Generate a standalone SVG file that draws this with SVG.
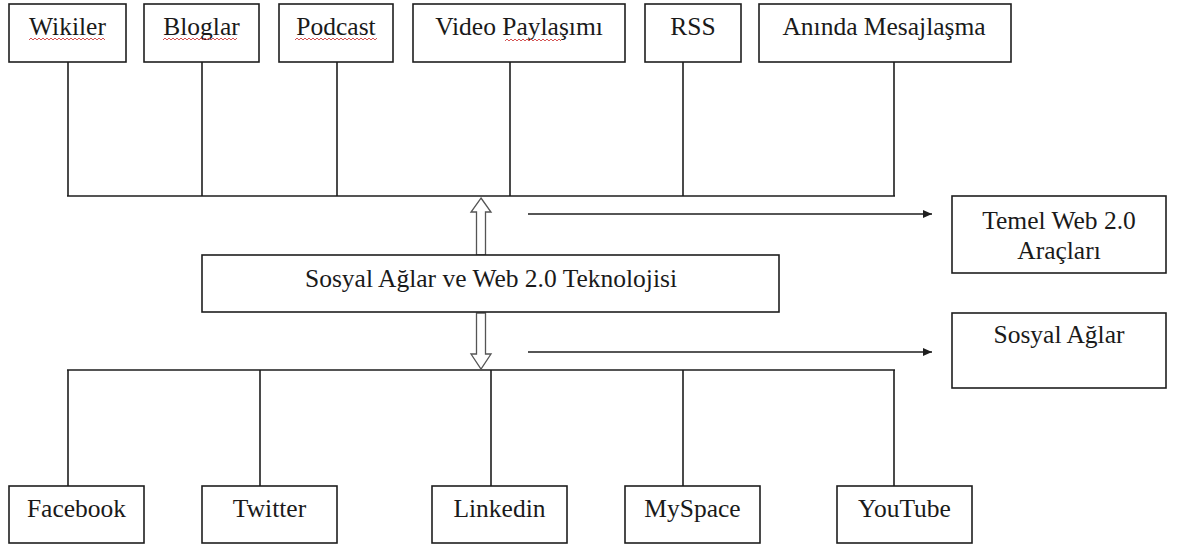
<svg xmlns="http://www.w3.org/2000/svg" width="1184" height="548" viewBox="0 0 1184 548">
<style>
.box{fill:#fff;stroke:#1e1e1e;stroke-width:1.6}
.t{font-family:"Liberation Serif","Times New Roman",serif;font-size:25.5px;fill:#1a1a1a;text-anchor:middle}
.ln{fill:none;stroke:#1e1e1e;stroke-width:1.6}
.hollow{fill:#fff;stroke:#555;stroke-width:1.3}
.sq{fill:none;stroke:#d04040;stroke-width:0.9}
</style>
<defs>
<marker id="ah" markerWidth="10" markerHeight="10" refX="9" refY="5" orient="auto" markerUnits="userSpaceOnUse">
<path d="M0,1 L9,5 L0,9 Z" fill="#1e1e1e"/>
</marker>
</defs>
<rect width="1184" height="548" fill="#fff"/>
<g id="connectors">
<path class="ln" d="M68,62 V196 M202,62 V196 M337,62 V196 M510,62 V196 M683,62 V196 M894,62 V196 M67,196 H895"/>
<path class="ln" d="M67,370 H895 M68,370 V486 M260,370 V486 M491,370 V486 M683,370 V486 M894,370 V486"/>
<path class="ln" d="M528,214 H932" marker-end="url(#ah)"/>
<path class="ln" d="M528,352 H932" marker-end="url(#ah)"/>
<polygon class="hollow" points="481,198 491,212 485.5,212 485.5,255 476.5,255 476.5,212 471,212"/>
<polygon class="hollow" points="476.5,313 485.5,313 485.5,354 491,354 481,369 471,354 476.5,354"/>
</g>
<g id="wikiler"><rect class="box" x="9" y="4" width="117" height="58"/><text class="t" x="67.5" y="35">Wikiler</text><path class="sq" d="M29,40 l2,-2 l2,2 l2,-2 l2,2 l2,-2 l2,2 l2,-2 l2,2 l2,-2 l2,2 l2,-2 l2,2 l2,-2 l2,2 l2,-2 l2,2 l2,-2 l2,2 l2,-2 l2,2 l2,-2 l2,2 l2,-2 l2,2 l2,-2 l2,2 l2,-2 l2,2 l2,-2 l2,2 l2,-2 l2,2 l2,-2 l2,2 l2,-2 l2,2 l2,-2 l2,2"/></g>
<g id="bloglar"><rect class="box" x="144" y="4" width="115" height="58"/><text class="t" x="201.5" y="35">Bloglar</text><path class="sq" d="M163,40 l2,-2 l2,2 l2,-2 l2,2 l2,-2 l2,2 l2,-2 l2,2 l2,-2 l2,2 l2,-2 l2,2 l2,-2 l2,2 l2,-2 l2,2 l2,-2 l2,2 l2,-2 l2,2 l2,-2 l2,2 l2,-2 l2,2 l2,-2 l2,2 l2,-2 l2,2 l2,-2 l2,2 l2,-2 l2,2 l2,-2 l2,2 l2,-2 l2,2 l2,-2"/></g>
<g id="podcast"><rect class="box" x="279" y="4" width="114" height="58"/><text class="t" x="336" y="35">Podcast</text><path class="sq" d="M295,40 l2,-2 l2,2 l2,-2 l2,2 l2,-2 l2,2 l2,-2 l2,2 l2,-2 l2,2 l2,-2 l2,2 l2,-2 l2,2 l2,-2 l2,2 l2,-2 l2,2 l2,-2 l2,2 l2,-2 l2,2 l2,-2 l2,2 l2,-2 l2,2 l2,-2 l2,2 l2,-2 l2,2 l2,-2 l2,2 l2,-2 l2,2 l2,-2 l2,2 l2,-2 l2,2 l2,-2 l2,2 l2,-2"/></g>
<g id="video"><rect class="box" x="413" y="4" width="212" height="58"/><text class="t" x="519" y="35">Video Paylaşımı</text><path class="sq" d="M505,41 l2,-2 l2,2 l2,-2 l2,2 l2,-2 l2,2 l2,-2 l2,2 l2,-2 l2,2 l2,-2 l2,2 l2,-2 l2,2 l2,-2 l2,2 l2,-2 l2,2 l2,-2 l2,2 l2,-2 l2,2 l2,-2 l2,2 l2,-2 l2,2 l2,-2 l2,2"/></g>
<g id="rss"><rect class="box" x="645" y="4" width="96" height="58"/><text class="t" x="693" y="35">RSS</text></g>
<g id="aninda"><rect class="box" x="759" y="4" width="252" height="58"/><text class="t" x="884" y="35">Anında Mesajlaşma</text></g>
<g id="center"><rect class="box" x="202" y="255" width="577" height="57"/><text class="t" x="491" y="287">Sosyal Ağlar ve Web 2.0 Teknolojisi</text></g>
<g id="temel"><rect class="box" x="952" y="196" width="214" height="77"/><text class="t" x="1059" y="229">Temel Web 2.0</text><text class="t" x="1059" y="259">Araçları</text></g>
<g id="sosyal"><rect class="box" x="952" y="313" width="214" height="75"/><text class="t" x="1059" y="343">Sosyal Ağlar</text></g>
<g id="facebook"><rect class="box" x="9" y="486" width="135" height="57"/><text class="t" x="76.5" y="517">Facebook</text></g>
<g id="twitter"><rect class="box" x="202" y="486" width="135" height="57"/><text class="t" x="269.5" y="517">Twitter</text></g>
<g id="linkedin"><rect class="box" x="432" y="486" width="135" height="57"/><text class="t" x="499.5" y="517">Linkedin</text></g>
<g id="myspace"><rect class="box" x="625" y="486" width="135" height="57"/><text class="t" x="692.5" y="517">MySpace</text></g>
<g id="youtube"><rect class="box" x="837" y="486" width="135" height="57"/><text class="t" x="904.5" y="517">YouTube</text></g>
</svg>
